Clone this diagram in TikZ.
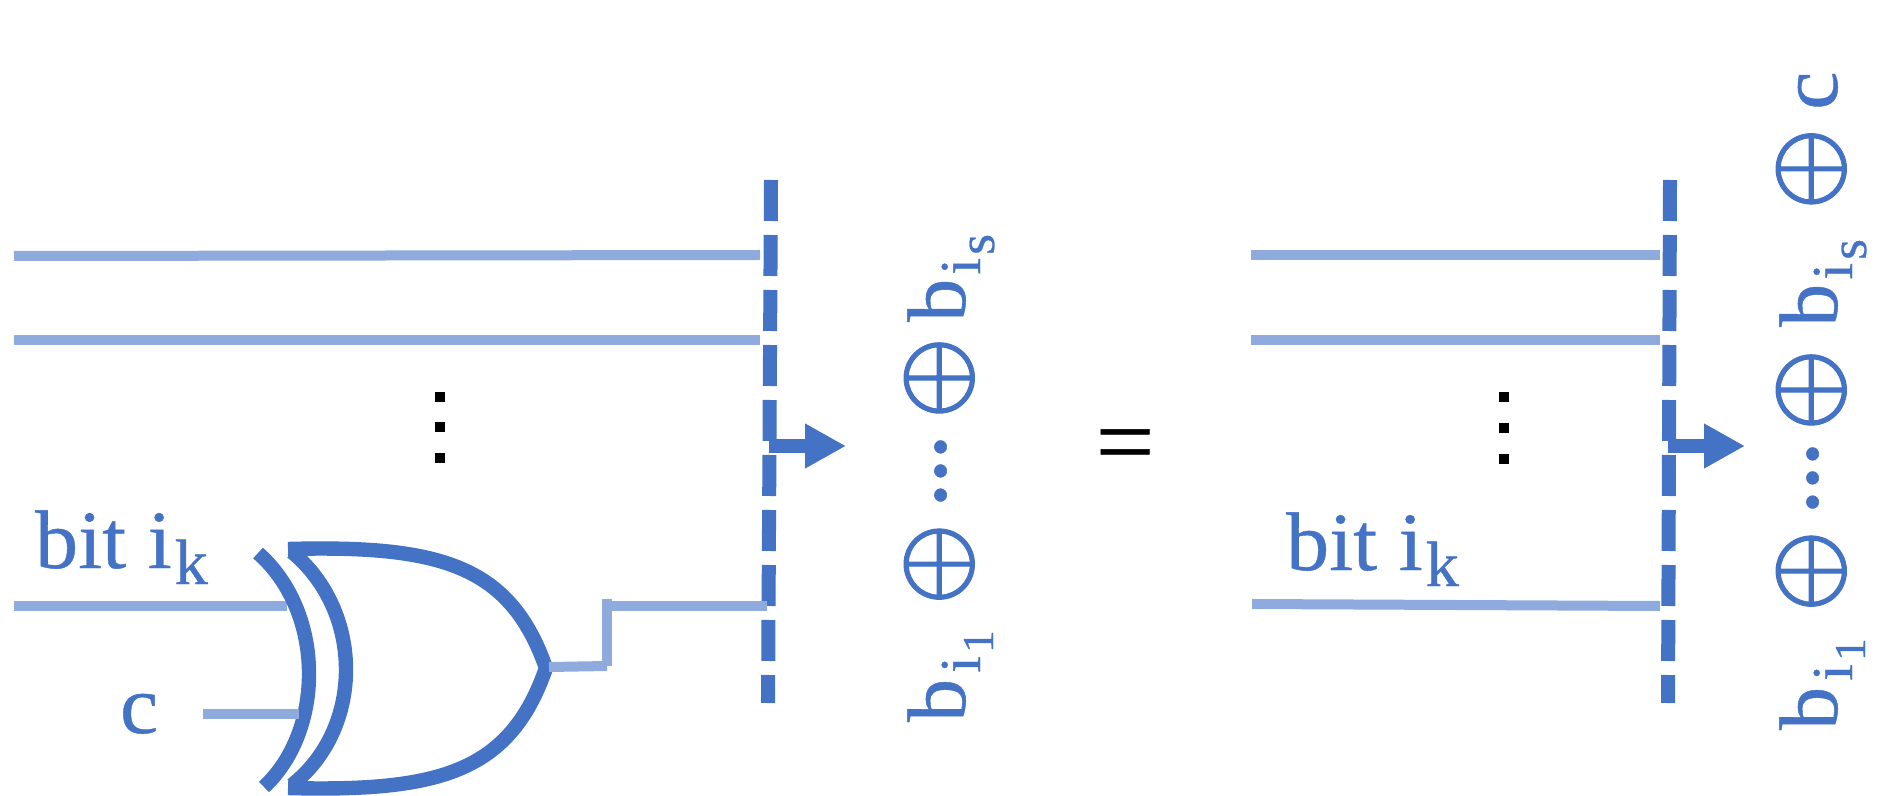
\documentclass[tikz,border=0pt]{standalone}
\usepackage{fontspec}
\setmainfont{Liberation Serif}[FakeBold=0.5,FakeStretch=1.04]
\newfontfamily\opfont{Latin Modern Math}[FakeBold=1]
\usetikzlibrary{arrows.meta}
\definecolor{gateblue}{HTML}{4472C4}
\definecolor{wireblue}{HTML}{8FAADC}
\newcommand{\szf}[1]{\fontsize{#1pt}{#1pt}\selectfont}
\newcommand{\lowered}[3]{\raisebox{-#1pt}{\szf{#2}#3}}
\newcommand{\bigop}{{\opfont\szf{51.5}⊕}}
\newcommand{\midots}{\raisebox{-5pt}{\szf{52}·\kern-6pt·\kern-6pt·}}
\newcommand{\bitlabel}{{\szf{41.5}bit i}\kern1.5pt\lowered{8}{32}{k}}
\newcommand{\bone}{{\szf{41.5}b}\kern3pt\lowered{7.5}{29}{i}\kern1.5pt\lowered{14}{22}{1}}
\newcommand{\bes}{{\szf{41.5}b}\kern2pt\lowered{7.5}{29}{i}\kern1.5pt\lowered{14.5}{26}{s}}
\tikzset{
  wire/.style={draw=wireblue,line width=5pt},
  gatestroke/.style={draw=gateblue,line width=7.2pt,miter limit=10},
  busline/.style={draw=gateblue,line width=7pt,dash pattern=on 20.5pt off 7pt},
  outarrow/.style={draw=gateblue,fill=gateblue,line width=7pt,-{Triangle[length=20.5pt,width=21pt]}},
  vdot/.style={fill=black,minimum size=4.8pt,inner sep=0pt,outer sep=0pt},
  lbl/.style={text=gateblue,inner sep=0pt,outer sep=0pt,anchor=base west},
  vlbl/.style={lbl,rotate=90},
}
\begin{document}
\begin{tikzpicture}[x=0.5pt,y=-0.5pt]
\useasboundingbox (0,0) rectangle (1883,796);
% named points
\coordinate (w1a) at (14,256); \coordinate (w1b) at (760,255);
\coordinate (w2a) at (14,340); \coordinate (w2b) at (760,340);
\coordinate (w3a) at (14,606); \coordinate (w3b) at (287,606);
\coordinate (ca) at (203,714); \coordinate (cb) at (299,714);
\coordinate (tip) at (546,668);
\coordinate (oa) at (549,667); \coordinate (ob) at (607,666);
\coordinate (oc) at (607,599); \coordinate (od) at (607,606); \coordinate (oe) at (767,606);
\coordinate (busAt) at (771,180); \coordinate (busAb) at (768,703);
\coordinate (busBt) at (1670,180); \coordinate (busBb) at (1668,703);
\coordinate (arrA) at (769,446); \coordinate (arrAe) at (846,446);
\coordinate (arrB) at (1668,446); \coordinate (arrBe) at (1745,446);
\coordinate (r1a) at (1251,255); \coordinate (r1b) at (1660,255);
\coordinate (r2a) at (1251,340); \coordinate (r2b) at (1660,340);
\coordinate (r3a) at (1252,604); \coordinate (r3b) at (1660,606);
% buses
\draw[busline] (busAt) -- (busAb);
\draw[busline] (busBt) -- (busBb);
\draw[outarrow] (arrA) -- (arrAe);
\draw[outarrow] (arrB) -- (arrBe);
% input wires
\draw[wire] (w1a) -- (w1b);
\draw[wire] (w2a) -- (w2b);
\draw[wire] (w3a) -- (w3b);
\draw[wire] (r1a) -- (r1b);
\draw[wire] (r2a) -- (r2b);
\draw[wire] (r3a) -- (r3b);
% XOR gate
\draw[gatestroke] (258,553) .. controls (325,612) and (325,730) .. (264,787);
\draw[gatestroke] (292,552) .. controls (364,612) and (364,728) .. (292,785);
\draw[gatestroke] (288,549) .. controls (440,545) and (510,565) .. (tip)
  .. controls (510,772) and (440,792) .. (288,788);
% gate wires
\draw[wire] (ca) -- (cb);
\draw[wire] (oa) -- (ob);
\draw[wire] (oc) -- (ob);
\draw[wire] (od) -- (oe);
% vertical dots
\node[vdot] (d1) at (440,397) {};
\node[vdot] (d2) at (440,427) {};
\node[vdot] (d3) at (440,458) {};
\node[vdot] (d4) at (1504,397) {};
\node[vdot] (d5) at (1504,428) {};
\node[vdot] (d6) at (1504,459) {};
% labels
\node[lbl] (bitL) at (35,568) {\bitlabel};
\node[lbl] (cL) at (120,733) {\szf{41.5}c};
\node[lbl] (bitR) at (1286,570) {\bitlabel};
\node[inner sep=0pt,anchor=base] (eq) at (1125,475) {\szf{50}=};
\node[vlbl] (sumL) at (965,722) {\bone\kern13pt\bigop\kern5.5pt\midots\kern5.5pt\bigop\kern8pt\bes};
\node[vlbl] (sumR) at (1837,730) {\bone\kern13.5pt\bigop\kern5.5pt\midots\kern3pt\bigop\kern11.5pt\bes\kern15pt\bigop\kern9.5pt{\szf{41.5}c}};
\end{tikzpicture}
\end{document}
